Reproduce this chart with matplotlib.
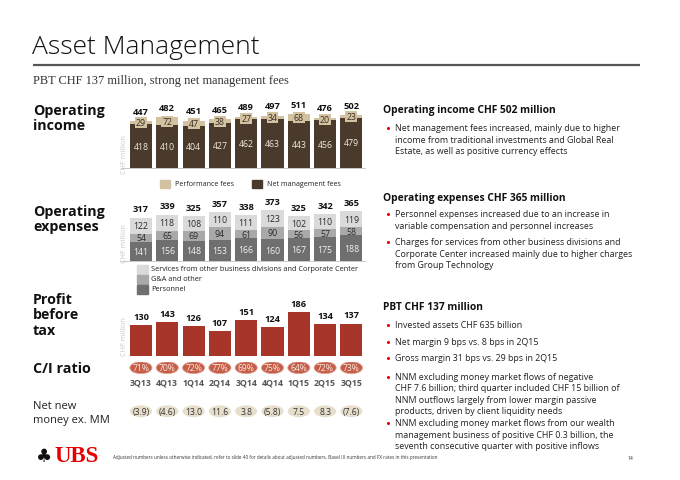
import matplotlib
matplotlib.use('Agg')
import matplotlib.pyplot as plt
from matplotlib.patches import Ellipse

# ---------------- data ----------------
quarters = ['3Q13', '4Q13', '1Q14', '2Q14', '3Q14', '4Q14', '1Q15', '2Q15', '3Q15']
net_mgmt_fees = [418, 410, 404, 427, 462, 463, 443, 456, 479]
perf_fees = [29, 72, 47, 38, 27, 34, 68, 20, 23]
income_total = [447, 482, 451, 465, 489, 497, 511, 476, 502]
personnel = [141, 156, 148, 153, 166, 160, 167, 175, 188]
ga_other = [54, 65, 69, 94, 61, 90, 56, 57, 58]
services = [122, 118, 108, 110, 111, 123, 102, 110, 119]
expenses_total = [317, 339, 325, 357, 338, 373, 325, 342, 365]
pbt = [130, 143, 126, 107, 151, 124, 186, 134, 137]
ci_ratio = [71, 70, 72, 77, 69, 75, 64, 72, 73]
nnm = [-3.9, -4.6, 13.0, 11.6, 3.8, -5.8, 7.5, 8.3, -7.6]

# ---------------- styling ----------------
W, H = 680, 481
FONT = ['Open Sans', 'DejaVu Sans']
plt.rcParams['font.family'] = FONT

C_NMF = '#4a3a2b'
C_PERF = '#d3c2a2'
C_PERS = '#6f6f6f'
C_GA = '#a9a9a9'
C_SERV = '#dadada'
C_PBT = '#a8352a'
C_CI = '#c45e48'
C_NNM = '#e7dfcc'
C_RED = '#e60000'

fig = plt.figure(figsize=(W / 100, H / 100), dpi=100)
fig.patch.set_facecolor('white')

# overlay axes in pixel coordinates for slide text
ov = fig.add_axes([0, 0, 1, 1])
ov.set_xlim(0, W)
ov.set_ylim(H, 0)
ov.axis('off')


def px_axes(left, top, right, bottom):
    return fig.add_axes([left / W, 1 - bottom / H, (right - left) / W, (bottom - top) / H])


def T(x, y, s, **kw):
    kw.setdefault('va', 'center')
    kw.setdefault('ha', 'left')
    kw.setdefault('fontsize', 6.8)
    kw.setdefault('color', '#222222')
    ov.text(x, y, s, **kw)


# ---------------- header ----------------
LX = 33
T(LX - 1, 47, 'Asset Management', fontsize=19, fontweight='light', color='#111111')
ov.plot([LX, 640], [66, 66], color='#555555', lw=1.6, solid_capstyle='butt')
T(LX, 81, 'PBT CHF 137 million, strong net management fees',
  fontsize=8.95, family=['Liberation Serif', 'DejaVu Serif'], color='#333333')

# ---------------- left labels ----------------
LBL = dict(fontsize=10.3, fontweight='bold', color='#111111')
T(LX, 111, 'Operating', **LBL)
T(LX, 126, 'income', **LBL)
T(LX, 212, 'Operating', **LBL)
T(LX, 227, 'expenses', **LBL)
T(LX, 300, 'Profit', **LBL)
T(LX, 315.5, 'before', **LBL)
T(LX, 331, 'tax', **LBL)
T(LX, 369, 'C/I ratio', **LBL)
T(LX, 407, 'Net new', fontsize=8)
T(LX, 421, 'money ex. MM', fontsize=8)

# ---------------- chart geometry ----------------
XL, XR = 127.8, 364.6
x = list(range(len(quarters)))
BW = 0.84


def setup(ax, ymax):
    ax.set_xlim(-0.5, len(quarters) - 0.5)
    ax.set_ylim(0, ymax)
    ax.axis('off')
    ax.patch.set_alpha(0)


def ylabel(y):
    T(124, y, 'CHF million', rotation=90, fontsize=5.2, color='#c8c8c8', ha='center')


# Operating income
ax1 = px_axes(XL, 106, XR, 169)
setup(ax1, 600)
ax1.bar(x, net_mgmt_fees, width=BW, color=C_NMF)
ax1.bar(x, perf_fees, width=BW, bottom=net_mgmt_fees, color=C_PERF)
for i in x:
    ax1.text(i, net_mgmt_fees[i] / 2, str(net_mgmt_fees[i]), ha='center', va='center',
             fontsize=6.3, color='#efe8dc')
    ax1.text(i, net_mgmt_fees[i] + perf_fees[i] / 2, str(perf_fees[i]), ha='center', va='center',
             fontsize=6.3, color='#3a2e22',
             bbox=dict(boxstyle='square,pad=0.12', fc=C_PERF, ec='none'))
    ax1.annotate(str(income_total[i]), (i, income_total[i]), xytext=(0, 4),
                 textcoords='offset points', ha='center', va='bottom',
                 fontsize=6.7, fontweight='bold', color='#111111')
ylabel(155)
ov.plot([121, 365], [169, 169], color='#c8c8c8', lw=0.7)

# income legend
ov.add_patch(plt.Rectangle((160, 181), 10, 8, color=C_PERF))
T(175, 185, 'Performance fees', fontsize=5.1)
ov.add_patch(plt.Rectangle((252, 181), 10, 8, color=C_NMF))
T(267, 185, 'Net management fees', fontsize=5.1)

# Operating expenses
ax2 = px_axes(XL, 207.2, XR, 262)
setup(ax2, 400)
b1 = [p + g for p, g in zip(personnel, ga_other)]
ax2.bar(x, personnel, width=BW, color=C_PERS)
ax2.bar(x, ga_other, width=BW, bottom=personnel, color=C_GA)
ax2.bar(x, services, width=BW, bottom=b1, color=C_SERV)
for i in x:
    ax2.text(i, personnel[i] / 2, str(personnel[i]), ha='center', va='center',
             fontsize=6.3, color='#f2f2f2')
    ax2.text(i, personnel[i] + ga_other[i] / 2, str(ga_other[i]), ha='center', va='center',
             fontsize=6.3, color='#2a2a2a')
    ax2.text(i, b1[i] + services[i] / 2, str(services[i]), ha='center', va='center',
             fontsize=6.3, color='#2a2a2a')
    ax2.annotate(str(expenses_total[i]), (i, expenses_total[i]), xytext=(0, 3),
                 textcoords='offset points', ha='center', va='bottom',
                 fontsize=6.7, fontweight='bold', color='#111111')
ylabel(244)
ov.plot([121, 365], [262, 262], color='#c8c8c8', lw=0.7)

# expenses legend
for yy, col, lab in [(270, C_SERV, 'Services from other business divisions and Corporate Center'),
                     (280, C_GA, 'G&A and other'),
                     (290, C_PERS, 'Personnel')]:
    ov.add_patch(plt.Rectangle((137, yy - 4.5), 11, 9, color=col))
    T(151, yy, lab, fontsize=5.3)

# Profit before tax
ax3 = px_axes(XL, 309.7, XR, 357)
setup(ax3, 200)
ax3.bar(x, pbt, width=BW, color=C_PBT)
for i in x:
    ax3.annotate(str(pbt[i]), (i, pbt[i]), xytext=(0, 3),
                 textcoords='offset points', ha='center', va='bottom',
                 fontsize=6.7, fontweight='bold', color='#111111')
ylabel(337)

# C/I ratio row
ax4 = px_axes(XL, 362.5, XR, 375)
setup(ax4, 1)
for i in x:
    ax4.add_patch(Ellipse((i, 0.5), BW, 0.95, fc=C_CI, ec='#e3a494', lw=0.6))
    ax4.text(i, 0.5, f'{ci_ratio[i]}%', ha='center', va='center', fontsize=6.2,
             color='#fbe9e1')

# quarter labels
ax5 = px_axes(XL, 377, XR, 389)
setup(ax5, 1)
for i in x:
    ax5.text(i, 0.5, quarters[i], ha='center', va='center', fontsize=6.3,
             fontweight='bold', color='#555555')

# NNM row
ax6 = px_axes(XL, 406, XR, 418.5)
setup(ax6, 1)
for i in x:
    v = nnm[i]
    s = f'({abs(v):.1f})' if v < 0 else f'{v:.1f}'
    ax6.add_patch(Ellipse((i, 0.5), BW, 0.95, fc=C_NNM, ec='none'))
    ax6.text(i, 0.5, s, ha='center', va='center', fontsize=6.2, color='#333333')

# ---------------- right column ----------------
RX, BX = 383, 395
HB = dict(fontsize=7.4, fontweight='bold', color='#111111')
BODY = dict(fontsize=6.4, color='#222222')


def bullet(lines, y0, step=11.5):
    ov.plot([387.5], [y0], 'o', ms=2.2, color=C_RED, mec='none')
    for k, ln in enumerate(lines):
        T(BX, y0 + k * step, ln, **BODY)


T(RX, 111, 'Operating income CHF 502 million', **HB)
bullet(['Net management fees increased, mainly due to higher',
        'income from traditional investments and Global Real',
        'Estate, as well as positive currency effects'], 129)

T(RX, 199, 'Operating expenses CHF 365 million', **HB)
bullet(['Personnel expenses increased due to an increase in',
        'variable compensation and personnel increases'], 215)
bullet(['Charges for services from other business divisions and',
        'Corporate Center increased mainly due to higher charges',
        'from Group Technology'], 243)

T(RX, 308, 'PBT CHF 137 million', **HB)
bullet(['Invested assets CHF 635 billion'], 326)
bullet(['Net margin 9 bps vs. 8 bps in 2Q15'], 342.5)
bullet(['Gross margin 31 bps vs. 29 bps in 2Q15'], 359)
bullet(['NNM excluding money market flows of negative',
        'CHF 7.6 billion; third quarter included CHF 15 billion of',
        'NNM outflows largely from lower margin passive',
        'products, driven by client liquidity needs'], 377.5)
bullet(['NNM excluding money market flows from our wealth',
        'management business of positive CHF 0.3 billion, the',
        'seventh consecutive quarter with positive inflows'], 424)

# ---------------- footer ----------------
T(44, 457, '\u2663', fontsize=13, color='#111111', family=['DejaVu Sans'], ha='center')
T(54, 457, 'UBS', fontsize=16.5, fontweight='bold', color=C_RED,
  family=['Liberation Serif', 'DejaVu Serif'])
T(113, 458, 'Adjusted numbers unless otherwise indicated, refer to slide 40 for details about '
  'adjusted numbers, Basel III numbers and FX rates in this presentation',
  fontsize=3.3, color='#333333')
T(628, 459, '14', fontsize=3.6, color='#333333')

fig.savefig('out.png', dpi=100, facecolor='white')
